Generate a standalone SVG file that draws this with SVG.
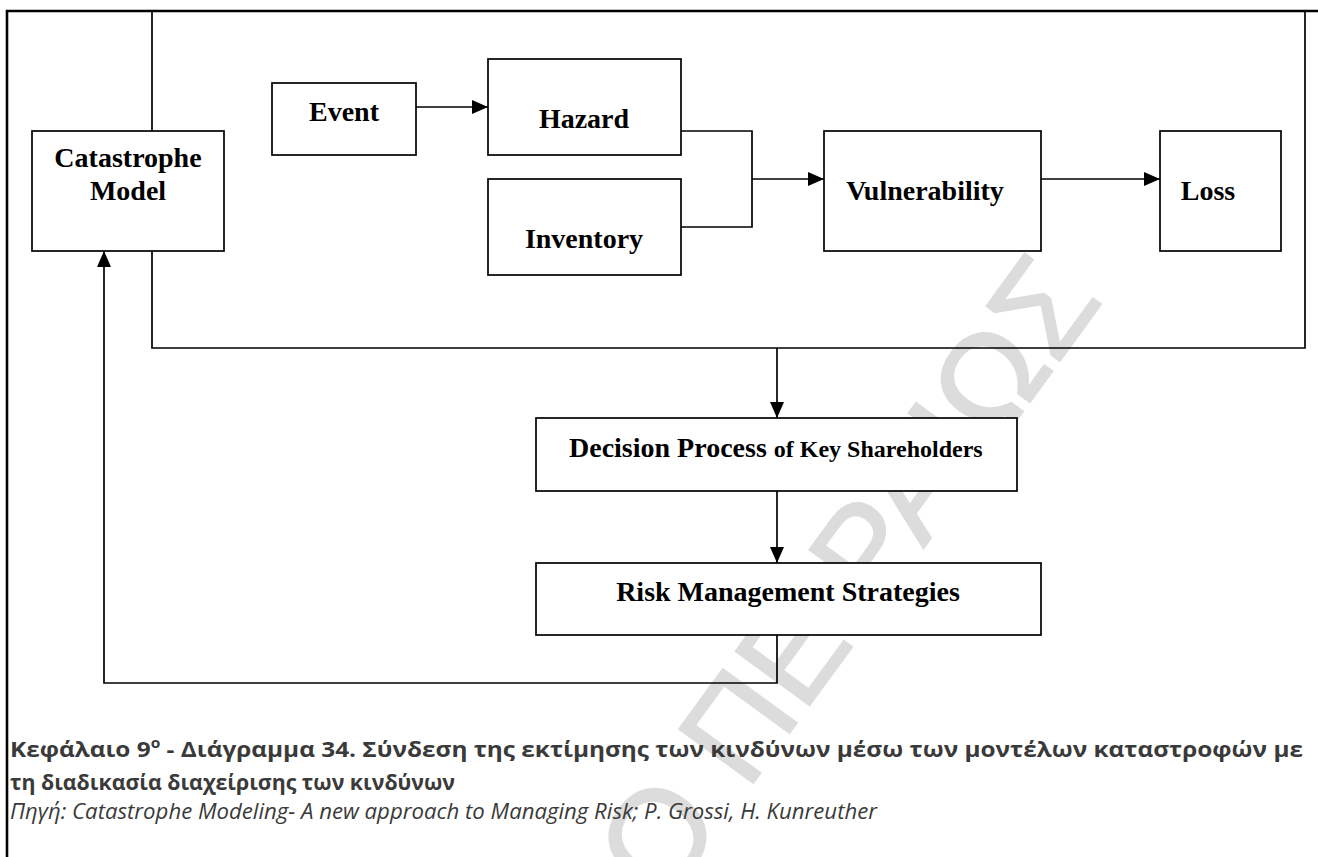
<svg xmlns="http://www.w3.org/2000/svg" width="1318" height="857" viewBox="0 0 1318 857">
  <style>
    .box { fill: #ffffff; stroke: #000000; stroke-width: 1.7; }
    .wire { fill: none; stroke: #000000; stroke-width: 1.7; }
    .frame { fill: none; stroke: #000000; stroke-width: 2.6; }
    .lbl { font-family: "Liberation Serif", "Times New Roman", serif; font-weight: bold; font-size: 28px; fill: #000000; }
    .small { font-size: 24px; }
    .cap { font-family: "Open Sans", "Noto Sans", sans-serif; font-size: 22px; fill: #3a3a3a; }
    .wm { font-family: "Liberation Sans", Arial, sans-serif; font-size: 133px; fill: #dcdcdc; stroke: #dcdcdc; stroke-width: 2; }
  </style>
  <defs>
    <marker id="arrow" viewBox="0 0 16 14" refX="16" refY="7" markerWidth="16" markerHeight="14" markerUnits="userSpaceOnUse" orient="auto">
      <path d="M0,0 L16,7 L0,14 Z" fill="#000000"/>
    </marker>
  </defs>
  <rect width="1318" height="857" fill="#ffffff"/>

  <!-- watermark -->
  <text class="wm" transform="translate(1104,300) rotate(-54)" text-anchor="end">ΠΑΝΕΠΙΣΤΗΜΙΟ ΠΕΙΡΑΙΩΣ</text>

  <!-- page frame -->
  <path class="frame" d="M7,857 V11 H1318"/>

  <g id="connectors">
    <!-- model loop round the hazard chain -->
    <path class="wire" d="M152,131 V11 H1305 V348 H152 V251"/>
    <path class="wire" d="M416,107 H488" marker-end="url(#arrow)"/>
    <path class="wire" d="M681,131 H752 V227 H681"/>
    <path class="wire" d="M752,179 H824" marker-end="url(#arrow)"/>
    <path class="wire" d="M1041,179 H1160" marker-end="url(#arrow)"/>
    <path class="wire" d="M777,348 V418" marker-end="url(#arrow)"/>
    <path class="wire" d="M777,491 V563" marker-end="url(#arrow)"/>
    <path class="wire" d="M777,635 V683 H104 V251" marker-end="url(#arrow)"/>
  </g>

  <g id="catastrophe-model">
    <rect class="box" x="32" y="131" width="192" height="120"/>
    <text class="lbl" x="128" y="167" text-anchor="middle">Catastrophe</text>
    <text class="lbl" x="128" y="200" text-anchor="middle">Model</text>
  </g>
  <g id="event">
    <rect class="box" x="272" y="83" width="144" height="72"/>
    <text class="lbl" x="344" y="121" text-anchor="middle">Event</text>
  </g>
  <g id="hazard">
    <rect class="box" x="488" y="59" width="193" height="96"/>
    <text class="lbl" x="584" y="128" text-anchor="middle">Hazard</text>
  </g>
  <g id="inventory">
    <rect class="box" x="488" y="179" width="193" height="96"/>
    <text class="lbl" x="584" y="248" text-anchor="middle">Inventory</text>
  </g>
  <g id="vulnerability">
    <rect class="box" x="824" y="131" width="217" height="120"/>
    <text class="lbl" x="925" y="200" text-anchor="middle">Vulnerability</text>
  </g>
  <g id="loss">
    <rect class="box" x="1160" y="131" width="121" height="120"/>
    <text class="lbl" x="1208" y="200" text-anchor="middle">Loss</text>
  </g>
  <g id="decision-process">
    <rect class="box" x="536" y="418" width="481" height="73"/>
    <text class="lbl" x="569" y="457">Decision Process <tspan class="small">of Key Shareholders</tspan></text>
  </g>
  <g id="risk-management">
    <rect class="box" x="536" y="563" width="505" height="72"/>
    <text class="lbl" x="788" y="601" text-anchor="middle">Risk Management Strategies</text>
  </g>

  <g id="caption">
    <text class="cap" x="10" y="757" font-weight="bold" textLength="1293" lengthAdjust="spacingAndGlyphs">Κεφάλαιο 9<tspan font-size="14" dy="-9">ο</tspan><tspan dy="9"> - Διάγραμμα 34. Σύνδεση της εκτίμησης των κινδύνων μέσω των μοντέλων καταστροφών με</tspan></text>
    <text class="cap" x="10" y="790" font-weight="bold" textLength="445" lengthAdjust="spacingAndGlyphs">τη διαδικασία διαχείρισης των κινδύνων</text>
    <text class="cap" x="10" y="819" font-style="italic" font-size="20" textLength="867" lengthAdjust="spacingAndGlyphs">Πηγή: Catastrophe Modeling- A new approach to Managing Risk; P. Grossi, H. Kunreuther</text>
  </g>
</svg>
